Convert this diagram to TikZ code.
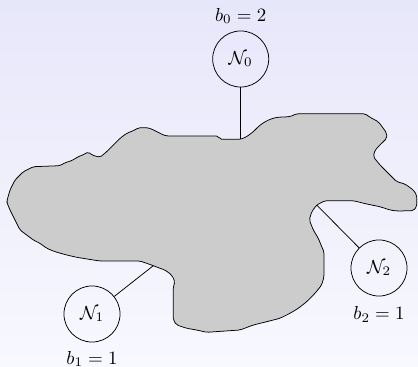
\documentclass[tikz,border=0pt]{standalone}
\usepackage{amsmath}
\usetikzlibrary{positioning,calc}
\definecolor{bgtop}{RGB}{231,231,250}
\definecolor{bgbot}{RGB}{248,248,255}
\definecolor{blobgray}{RGB}{204,204,204}

\begin{document}
\begin{tikzpicture}[
  x=0.53pt,y=-0.53pt,
  nbd/.style={draw,circle,minimum size=29.7pt,inner sep=0pt},
  blob/.style={draw,fill=blobgray,rounded corners=1pt},
  lbl/.style={label distance=0pt}
]
% Background
\shade[top color=bgtop,bottom color=bgbot] (0,0) rectangle (418,367);
\useasboundingbox (0,0) rectangle (418,367);

% The region (traced outline)
\draw[blob] (6.7,201.7) -- (10,190) -- (15,180) -- (23.3,171.7) -- (33.3,166.7)
  -- (60,165.7) -- (65,162.7) -- (71.7,160.7) -- (78.3,156.7) -- (85,154)
  -- (88.3,151.7) -- (91.7,155) -- (100,157.3) -- (106.7,151.7) -- (113.3,145)
  -- (120,138.3) -- (126.7,133.3) -- (135,130) -- (138.3,127.7) -- (148.3,127.7)
  -- (155,130.7) -- (163.3,135) -- (166.7,136) -- (218.3,136) -- (220,139.3)
  -- (240.7,139.3) -- (246.7,136.7) -- (253.3,131.7) -- (258.3,126.7)
  -- (263.3,122.7) -- (270,119.3) -- (276.7,117.3) -- (290,116.7)
  -- (296.7,113.7) -- (365,113.7) -- (370,117.3) -- (378.3,121.7)
  -- (383.3,128.3) -- (386.7,133.3) -- (386.7,138.3) -- (381.7,143.3)
  -- (375,150) -- (373.3,156.7) -- (380,165) -- (388.3,173.3) -- (396.7,181.7)
  -- (405,184) -- (413.3,190) -- (416.7,195) -- (416.7,206.7) -- (413.3,210.7)
  -- (396.7,211) -- (390,210) -- (380,206.7) -- (366.7,204) -- (353.3,200.7)
  -- (325,200.7) -- (316.7,205) -- (311.7,211.7) -- (309.3,220) -- (313.3,230)
  -- (318.3,238.3) -- (321.7,246.7) -- (324,251.7) -- (324,276.7) -- (321.7,285)
  -- (315,293.3) -- (306.7,301.7) -- (298.3,308.3) -- (290,313.3) -- (280,318.3)
  -- (266.7,321.7) -- (253.3,325) -- (240,330) -- (206.7,332.3) -- (196.7,330)
  -- (186.7,328.3) -- (176.7,325) -- (173.3,320) -- (173.3,286.7) -- (175,281.7)
  -- (171.7,275) -- (165,270) -- (160,268.3) -- (153.3,265.7) -- (146.7,263.3)
  -- (140,261) -- (100,261) -- (93.3,260) -- (76.7,257.3) -- (66.7,255)
  -- (55,251.7) -- (46.7,248.3) -- (40,243.3) -- (33.3,240) -- (26.7,235)
  -- (20,230) -- (16.7,223.3) -- (13.3,216.7) -- (10,210) -- (7.3,203.3) -- cycle;

% Attachment points on the boundary
\coordinate (a0) at (240.7,139.3);
\coordinate (a1) at (153.3,265.7);
\coordinate (a2) at (316.7,205);

% Neighbourhoods
\node[nbd,label={[lbl]above:$b_0=2$}] (N0) at (240.7,59)  {$\mathcal{N}_0$};
\node[nbd,label={[lbl,label distance=1pt]below:$b_1=1$}] (N1) at (92,314)  {$\mathcal{N}_1$};
\node[nbd,label={[lbl,label distance=2pt]below:$b_2=1$}] (N2) at (379,268) {$\mathcal{N}_2$};

\draw (N0) -- (a0);
\draw (N1) -- (a1);
\draw (N2) -- (a2);
\end{tikzpicture}
\end{document}
